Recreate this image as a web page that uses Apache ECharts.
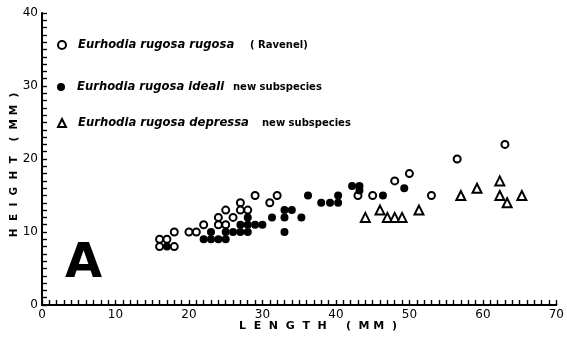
<!DOCTYPE html>
<html>
<head>
<meta charset="utf-8">
<script src="https://cdn.jsdelivr.net/npm/echarts@6/dist/echarts.min.js"></script>
<style>
  html, body { margin: 0; padding: 0; background: #fff; }
  #chart { width: 567px; height: 339px; }
</style>
</head>
<body>
<div id="chart"></div>
<script>
// Length (mm) vs height (mm) for three subspecies of Eurhodia rugosa
var rugosaRugosa = [
  [16, 9], [17, 9], [16, 8], [18, 8], [18, 10], [20, 10], [21, 10], [22, 11],
  [24, 12], [24, 11], [25, 13], [25, 11], [26, 12], [27, 14], [27, 13], [28, 13],
  [29, 15], [31, 14], [32, 15], [43, 15], [45, 15], [48, 17], [50, 18], [53, 15],
  [56.5, 20], [63, 22]
];
var rugosaIdeali = [
  [17, 8], [22, 9], [23, 9], [24, 9], [25, 9], [23, 10], [25, 10], [26, 10],
  [27, 10], [28, 10], [27, 11], [28, 11], [29, 11], [30, 11], [28, 12], [31.3, 12],
  [33, 13], [34, 13], [33, 12], [33, 10], [35.3, 12], [36.2, 15], [38, 14], [39.2, 14],
  [40.3, 14], [40.3, 15], [42.2, 16.3], [43.2, 16.3], [43.2, 15.7], [46.4, 15], [49.3, 16]
];
var rugosaDepressa = [
  [44, 12], [46, 13], [47, 12], [48, 12], [49, 12], [51.3, 13], [57, 15], [59.2, 16],
  [62.3, 17], [62.3, 15], [63.3, 14], [65.3, 15]
];

// Axis ranges: a tick every millimetre, a label every 10
var xTicks = { min: 0, max: 70, step: 1, labelStep: 10 };
var yTicks = { min: 0, max: 40, step: 1, labelStep: 10 };

var seriesNames = ['rugosa', 'ideali', 'depressa'];
var legendTexts = [
  { italic: 'Eurhodia rugosa rugosa', plain: '( Ravenel)' },
  { italic: 'Eurhodia rugosa ideali', plain: 'new subspecies' },
  { italic: 'Eurhodia rugosa depressa', plain: 'new subspecies' }
];

var INK = '#000';
var FONT = '"DejaVu Sans", sans-serif';

function makeAxis(t) {
  return {
    type: 'value',
    min: t.min,
    max: t.max,
    interval: t.step,
    splitLine: { show: false },
    axisLine: { lineStyle: { color: INK, width: 2 } },
    axisTick: { inside: true, length: 5, lineStyle: { color: INK, width: 1.4 } },
    axisLabel: {
      color: INK,
      fontFamily: FONT,
      fontSize: 12,
      margin: 4,
      formatter: function (v) { return v % t.labelStep === 0 ? String(v) : ''; }
    }
  };
}

function legendFor(i, top, gapWidth) {
  return {
    data: [seriesNames[i]],
    left: 57,
    top: top,
    padding: 0,
    itemWidth: 8,
    itemHeight: 8,
    selectedMode: false,
    formatter: function () {
      return '{s|}{i|' + legendTexts[i].italic + '}{n|' + legendTexts[i].plain + '}';
    },
    textStyle: {
      color: INK,
      rich: {
        s: { width: 7 },
        i: { width: gapWidth, fontFamily: FONT, fontStyle: 'italic', fontWeight: 'bold', fontSize: 11.6, color: INK },
        n: { fontFamily: FONT, fontWeight: 'bold', fontSize: 10, color: INK }
      }
    }
  };
}

var chart = echarts.init(document.getElementById('chart'), null, { renderer: 'canvas' });
chart.setOption({
  animation: false,
  backgroundColor: '#fff',
  grid: { left: 42, right: 9, top: 13, bottom: 34, containLabel: false },
  xAxis: makeAxis(xTicks),
  yAxis: makeAxis(yTicks),
  legend: [
    legendFor(0, 39, 172),
    legendFor(1, 81, 156),
    legendFor(2, 117, 184)
  ],
  series: [
    {
      name: seriesNames[0], type: 'scatter', data: rugosaRugosa,
      symbol: 'emptyCircle', symbolSize: 7,
      itemStyle: { color: INK, borderColor: INK, borderWidth: 1.6, opacity: 1 }
    },
    {
      name: seriesNames[1], type: 'scatter', data: rugosaIdeali,
      symbol: 'circle', symbolSize: 8,
      itemStyle: { color: INK, opacity: 1 }
    },
    {
      name: seriesNames[2], type: 'scatter', data: rugosaDepressa,
      symbol: 'emptyTriangle', symbolSize: 9,
      itemStyle: { color: INK, borderColor: INK, borderWidth: 1.6, opacity: 1 }
    }
  ],
  graphic: [
    {
      type: 'text', left: 65, top: 241,
      style: { text: 'A', font: 'bold 48px ' + FONT, fill: INK }
    },
    {
      type: 'text', x: 318, y: 326,
      style: {
        text: 'L  E  N  G  T  H     (  M M  )',
        font: 'bold 11px ' + FONT, fill: INK, align: 'center', verticalAlign: 'middle'
      }
    },
    {
      type: 'text', x: 14, y: 165, rotation: Math.PI / 2,
      style: {
        text: 'H  E  I  G  H  T    (  M M  )',
        font: 'bold 10.5px ' + FONT, fill: INK, align: 'center', verticalAlign: 'middle'
      }
    }
  ]
});
</script>
</body>
</html>
